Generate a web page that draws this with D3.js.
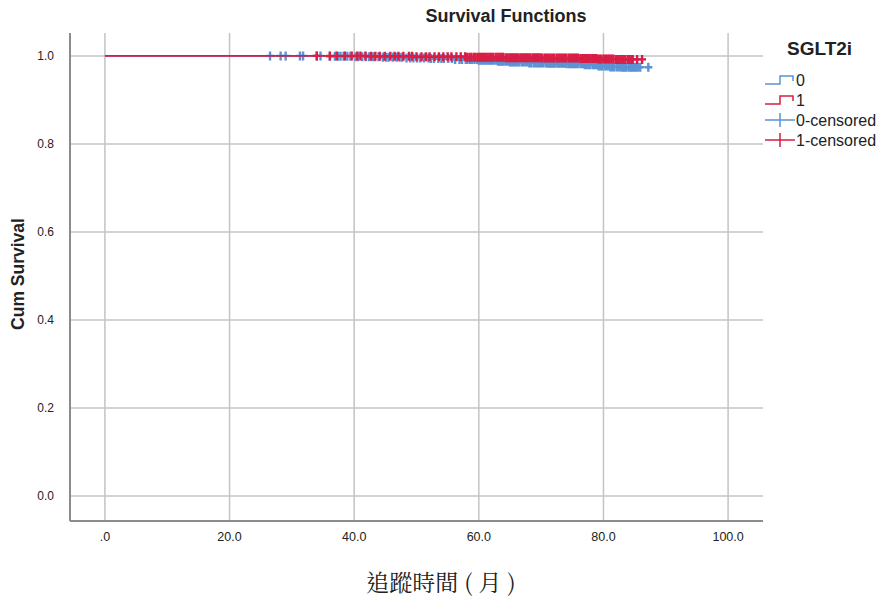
<!DOCTYPE html>
<html>
<head>
<meta charset="utf-8">
<script src="https://cdn.jsdelivr.net/npm/d3@7/dist/d3.min.js"></script>
<style>
  body { margin: 0; background: #fff; }
  text { font-family: "Liberation Sans", Arial, sans-serif; fill: #222; }
</style>
</head>
<body>
<script>
// chart data
var groups = ["0", "1"];
var colors = ["#5b93d3", "#d81e46"];

// survival step functions: [month, cum survival]
var steps0 = [[0, 1.0], [36, 0.999], [40, 0.998], [44, 0.997], [48, 0.995], [52, 0.994], [56, 0.992],
              [60, 0.990], [63, 0.988], [65, 0.986], [68, 0.984], [71, 0.983], [74, 0.982], [77, 0.980],
              [79, 0.977], [81, 0.975], [83, 0.974], [85.9, 0.974]];
var steps1 = [[0, 1.0], [42, 0.999], [50, 0.998], [58, 0.997], [64, 0.996], [70, 0.995], [76, 0.994],
              [79, 0.993], [82, 0.992], [84.7, 0.992]];

// censored times (months)
var censored0 = [26.5, 28.2, 29.0, 31.3, 31.8, 34.0, 34.6, 36.1, 36.9, 37.4, 37.8, 38.3, 38.9, 39.4, 40.2, 40.6,
  41.3, 41.9, 42.4, 43.0, 43.3, 43.9, 44.6, 45.1, 45.5, 46.2, 46.8, 47.3, 47.7, 48.4, 49.0, 49.5, 50.1, 50.6,
  51.2, 51.9, 52.3, 52.8, 53.5, 54.0, 54.4, 55.1, 55.7, 56.2, 56.9, 57.3, 57.9,
  58.2, 58.6, 58.9, 59.3, 59.7, 60.0, 60.3, 60.6, 60.9, 61.2, 61.5, 61.8, 62.1, 62.4, 62.8, 63.1, 63.4, 63.7,
  64.0, 64.4, 64.7, 65.0, 65.3, 65.6, 65.9, 66.2, 66.5, 66.9, 67.2, 67.5, 67.8, 68.1, 68.4, 68.8, 69.1, 69.4,
  69.7, 70.0, 70.3, 70.7, 71.0, 71.3, 71.6, 71.9, 72.2, 72.6, 72.9, 73.2, 73.5, 73.8, 74.1, 74.5, 74.8, 75.1,
  75.4, 75.7, 76.0, 76.4, 76.7, 77.0, 77.3, 77.6, 77.9, 78.3, 78.6, 78.9, 79.2, 79.5, 79.8, 80.2, 80.5, 80.8,
  81.1, 81.4, 81.7, 82.1, 82.4, 82.7, 83.0, 83.3, 83.6, 84.0, 84.3, 84.6, 84.9, 85.2, 85.5, 85.9, 87.2];
var censored1 = [34.0, 36.1, 37.2, 38.5, 39.6, 40.5, 41.0, 41.8, 42.7, 43.4, 44.1, 44.9, 45.8, 46.5, 47.1, 47.9,
  48.8, 49.3, 50.0, 50.8, 51.5, 52.1, 52.9, 53.6, 54.3, 55.0, 55.6, 56.4, 57.1, 57.8,
  58.1, 58.5, 58.8, 59.2, 59.5, 59.9, 60.2, 60.5, 60.8, 61.1, 61.4, 61.7, 62.0, 62.3, 62.7, 63.0, 63.3, 63.6,
  63.9, 64.3, 64.6, 64.9, 65.2, 65.5, 65.8, 66.1, 66.4, 66.8, 67.1, 67.4, 67.7, 68.0, 68.3, 68.7, 69.0, 69.3,
  69.6, 69.9, 70.2, 70.6, 70.9, 71.2, 71.5, 71.8, 72.1, 72.5, 72.8, 73.1, 73.4, 73.7, 74.0, 74.4, 74.7, 75.0,
  75.3, 75.6, 75.9, 76.3, 76.6, 76.9, 77.2, 77.5, 77.8, 78.2, 78.5, 78.8, 79.1, 79.4, 79.7, 80.1, 80.4, 80.7,
  81.0, 81.3, 81.6, 82.0, 82.3, 82.6, 82.9, 83.2, 83.5, 83.9, 84.2, 84.5, 84.7, 85.4, 86.2];

var xTicks = [0, 20, 40, 60, 80, 100];
var xTickLabels = [".0", "20.0", "40.0", "60.0", "80.0", "100.0"];
var yTicks = [0, 0.2, 0.4, 0.6, 0.8, 1.0];
var yTickLabels = ["0.0", "0.2", "0.4", "0.6", "0.8", "1.0"];
var legendLabels = ["0", "1", "0-censored", "1-censored"];

var W = 881, H = 598;
var plot = {left: 70, right: 763, top: 33, bottom: 521};

var x = d3.scaleLinear().domain([-5.6, 105.6]).range([plot.left, plot.right]);
var y = d3.scaleLinear().domain([-0.057, 1.052]).range([plot.bottom, plot.top]);

var svg = d3.select("body").append("svg")
    .attr("width", W)
    .attr("height", H);

// grid lines
svg.append("g").selectAll("line")
  .data(xTicks).enter().append("line")
    .attr("x1", function(d) { return x(d); })
    .attr("x2", function(d) { return x(d); })
    .attr("y1", plot.top).attr("y2", plot.bottom)
    .attr("stroke", "#c4c4c4").attr("stroke-width", 1.5);
svg.append("g").selectAll("line")
  .data(yTicks).enter().append("line")
    .attr("x1", plot.left).attr("x2", plot.right)
    .attr("y1", function(d) { return y(d); })
    .attr("y2", function(d) { return y(d); })
    .attr("stroke", "#c4c4c4").attr("stroke-width", 1.5);

// axes lines
svg.append("line").attr("x1", plot.left).attr("x2", plot.left)
  .attr("y1", plot.top).attr("y2", plot.bottom)
  .attr("stroke", "#8c8c8c").attr("stroke-width", 2);
svg.append("line").attr("x1", plot.left).attr("x2", plot.right)
  .attr("y1", plot.bottom).attr("y2", plot.bottom)
  .attr("stroke", "#8c8c8c").attr("stroke-width", 2);

// tick labels
svg.append("g").selectAll("text")
  .data(xTicks).enter().append("text")
    .attr("x", function(d) { return x(d); })
    .attr("y", 541)
    .attr("text-anchor", "middle")
    .style("font-size", "12.5px")
    .text(function(d, i) { return xTickLabels[i]; });
svg.append("g").selectAll("text")
  .data(yTicks).enter().append("text")
    .attr("x", 54)
    .attr("y", function(d) { return y(d) + 4; })
    .attr("text-anchor", "end")
    .style("font-size", "12px")
    .text(function(d, i) { return yTickLabels[i]; });

// titles
svg.append("text").attr("x", 506).attr("y", 22)
  .attr("text-anchor", "middle")
  .style("font-size", "18px").style("font-weight", "bold")
  .text("Survival Functions");
svg.append("text")
  .attr("transform", "translate(24,274) rotate(-90)")
  .attr("text-anchor", "middle")
  .style("font-size", "17.5px").style("font-weight", "bold")
  .text("Cum Survival");
svg.append("text").attr("x", 441).attr("y", 591)
  .attr("text-anchor", "middle")
  .style("font-family", "'Noto Serif CJK TC', 'Noto Sans CJK TC', serif")
  .style("font-size", "23px")
  .text("追蹤時間 ( 月 )");

// survival at time t
function survAt(steps, t) {
  var s = steps[0][1];
  for (var i = 0; i < steps.length; i++) {
    if (steps[i][0] <= t) s = steps[i][1];
  }
  return s;
}

var line = d3.line()
  .x(function(d) { return x(d[0]); })
  .y(function(d) { return y(d[1]); })
  .curve(d3.curveStepAfter);

function cross(cx, cy, hw, hh) {
  return "M" + (cx - hw) + "," + cy + "H" + (cx + hw) + "M" + cx + "," + (cy - hh) + "V" + (cy + hh);
}

var allSteps = [steps0, steps1];
var allCens = [censored0, censored1];

for (let g = 0; g < groups.length; g++) {
  svg.append("path")
    .datum(allSteps[g])
    .attr("fill", "none")
    .attr("stroke", colors[g])
    .attr("stroke-width", 1.6)
    .attr("d", line);
  svg.append("g").selectAll("path")
    .data(allCens[g]).enter().append("path")
      .attr("d", function(t) { return cross(x(t), y(survAt(allSteps[g], t)), 4, 4.5); })
      .attr("stroke", colors[g])
      .attr("stroke-width", 2.4);
}

// legend
svg.append("text").attr("x", 787).attr("y", 55)
  .style("font-size", "19px").style("font-weight", "bold")
  .text("SGLT2i");

var lg = svg.append("g");
for (let i = 0; i < legendLabels.length; i++) {
  var ly = 80 + i * 20;
  var c = colors[i % 2];
  if (i < 2) {
    lg.append("path")
      .attr("d", "M765," + (ly + 4) + "H780V" + (ly - 4) + "H793V" + (ly + 1))
      .attr("fill", "none").attr("stroke", c).attr("stroke-width", 1.5);
  } else {
    lg.append("path")
      .attr("d", cross(780, ly, 15, 7))
      .attr("fill", "none").attr("stroke", c).attr("stroke-width", 1.5);
  }
  lg.append("text").attr("x", 796).attr("y", ly + 5.5)
    .style("font-size", "16px")
    .text(legendLabels[i]);
}
</script>
</body>
</html>
